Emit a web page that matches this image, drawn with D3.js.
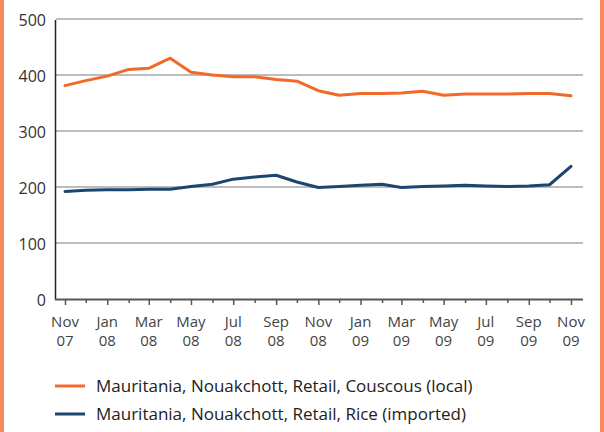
<!DOCTYPE html>
<html><head><meta charset="utf-8">
<script src="https://cdn.jsdelivr.net/npm/d3@7"></script>
<style>
html,body{margin:0;padding:0;background:#fff;}
svg{display:block;}
text{font-family:"Open Sans","Noto Sans",sans-serif;}
</style></head>
<body>
<svg id="c" width="604" height="432"></svg>
<script>
const months = ["2007-11","2007-12","2008-01","2008-02","2008-03","2008-04","2008-05","2008-06","2008-07","2008-08","2008-09","2008-10","2008-11","2008-12","2009-01","2009-02","2009-03","2009-04","2009-05","2009-06","2009-07","2009-08","2009-09","2009-10","2009-11"];
const couscous = [381,390,398,410,412,430,405,400,397,397,392,389,372,364,367,367,368,371,364,366,366,366,367,367,363];
const rice = [192,194,195,195,196,196,201,205,214,218,221,209,199,201,203,205,199,201,202,203,202,201,202,204,237];
const yTicks = [0,100,200,300,400,500];
const seriesNames = ["Mauritania, Nouakchott, Retail, Couscous (local)","Mauritania, Nouakchott, Retail, Rice (imported)"];
const seriesColors = ["#f26a2a","#1b4670"];

const parse = d3.timeParse("%Y-%m");
const dates = months.map(parse);
const svg = d3.select("#c");

// orange frame sides
svg.append("rect").attr("x",0).attr("y",0).attr("width",4).attr("height",432).attr("fill","#f58b58");
svg.append("rect").attr("x",600).attr("y",0).attr("width",4).attr("height",432).attr("fill","#f58b58");

const x = d3.scaleTime().domain([dates[0], dates[dates.length-1]]).range([65,571]);
const y = d3.scaleLinear().domain([0,500]).range([299,19]);

// gridlines
svg.append("g").selectAll("line").data(yTicks.filter(d=>d>0)).join("line")
  .attr("x1",56).attr("x2",583).attr("y1",d=>y(d)).attr("y2",d=>y(d))
  .attr("stroke","#bdbdbd").attr("stroke-width",2);

// y labels
svg.append("g").selectAll("text").data(yTicks).join("text")
  .attr("x",46).attr("y",d=>y(d)+7).attr("text-anchor","end")
  .attr("font-size",16).attr("fill","#333").text(d=>d);

// y axis line
svg.append("line").attr("x1",55.5).attr("x2",55.5).attr("y1",y(500)+1).attr("y2",300)
  .attr("stroke","#222").attr("stroke-width",1.5);

// x axis
const xAxis = d3.axisBottom(x).ticks(d3.timeMonth.every(1)).tickSize(6).tickFormat("");
const gx = svg.append("g").attr("transform","translate(0,299)").call(xAxis);
gx.select(".domain").remove();
gx.selectAll(".tick line").attr("stroke","#555").attr("stroke-width",1.5)
  .attr("y2",(d,i)=> i%2===0 ? 6 : 4);
svg.append("line").attr("x1",55).attr("x2",583).attr("y1",299.5).attr("y2",299.5)
  .attr("stroke","#555").attr("stroke-width",2);

const labDates = dates.filter((d,i)=>i%2===0);
const fmtM = d3.timeFormat("%b"), fmtY = d3.timeFormat("%y");
const lg = svg.append("g");
lg.selectAll("text.m").data(labDates).join("text").attr("class","m")
  .attr("x",d=>x(d)).attr("y",327).attr("text-anchor","middle")
  .attr("font-size",15).attr("fill","#444").text(d=>fmtM(d));
lg.selectAll("text.yr").data(labDates).join("text").attr("class","yr")
  .attr("x",d=>x(d)).attr("y",346).attr("text-anchor","middle")
  .attr("font-size",15).attr("fill","#444").text(d=>fmtY(d));

// lines
const line = d3.line().x((d,i)=>x(dates[i])).y(d=>y(d));
[couscous, rice].forEach((s,k)=>{
  svg.append("path").datum(s).attr("d",line).attr("fill","none")
    .attr("stroke",seriesColors[k]).attr("stroke-width",3)
    .attr("stroke-linejoin","round").attr("stroke-linecap","round");
});

// legend
seriesNames.forEach((n,k)=>{
  const yy = 386 + k*28;
  svg.append("line").attr("x1",55).attr("x2",85).attr("y1",yy).attr("y2",yy)
    .attr("stroke",seriesColors[k]).attr("stroke-width",3);
  svg.append("text").attr("x",96).attr("y",yy+6).attr("font-size",17).attr("fill","#222").text(n);
});
</script>
</body></html>
